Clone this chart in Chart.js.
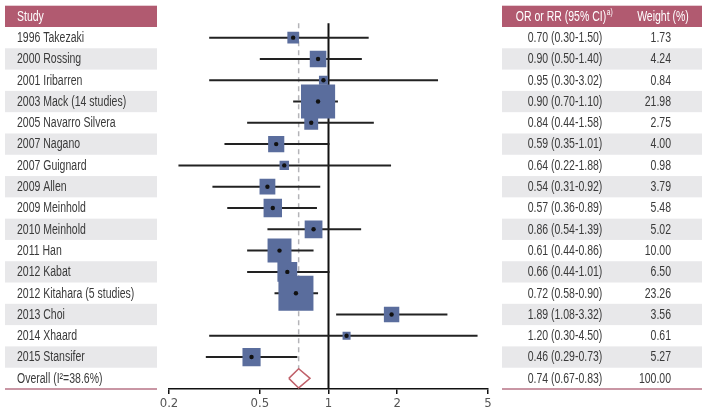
<!DOCTYPE html>
<html>
<head>
<meta charset="utf-8">
<script src="https://cdn.jsdelivr.net/npm/chart.js@4.4.1/dist/chart.umd.min.js"></script>
<style>
  html, body { margin: 0; padding: 0; background: #fff; }
  #wrap { width: 708px; height: 417px; }
</style>
</head>
<body>
<div id="wrap"><canvas id="forest"></canvas></div>
<script>
let studies = ['1996 Takezaki', '2000 Rossing', '2001 Iribarren', '2003 Mack (14 studies)', '2005 Navarro Silvera',
	'2007 Nagano', '2007 Guignard', '2009 Allen', '2009 Meinhold', '2010 Meinhold', '2011 Han', '2012 Kabat',
	'2012 Kitahara (5 studies)', '2013 Choi', '2014 Xhaard', '2015 Stansifer'];
let estimate = [0.70, 0.90, 0.95, 0.90, 0.84, 0.59, 0.64, 0.54, 0.57, 0.86, 0.61, 0.66, 0.72, 1.89, 1.20, 0.46];
let lower    = [0.30, 0.50, 0.30, 0.70, 0.44, 0.35, 0.22, 0.31, 0.36, 0.54, 0.44, 0.44, 0.58, 1.08, 0.30, 0.29];
let upper    = [1.50, 1.40, 3.02, 1.10, 1.58, 1.01, 1.88, 0.92, 0.89, 1.39, 0.86, 1.01, 0.90, 3.32, 4.50, 0.73];
let weights  = [1.73, 4.24, 0.84, 21.98, 2.75, 4.00, 0.98, 3.79, 5.48, 5.02, 10.00, 6.50, 23.26, 3.56, 0.61, 5.27];
let overall  = { label : 'Overall (I\u00B2=38.6%)', est : 0.74, lo : 0.67, hi : 0.83, weight : '100.00' };
let xTicks   = [0.2, 0.5, 1, 2, 5];

let fmt = v => v.toFixed(2);
let font = "'Liberation Sans', Arial, sans-serif";
let squeeze = 0.75; // the original uses a condensed face
let headerColor = '#b15a70',
	shadeColor  = '#e8e8ea',
	boxColor    = '#5a6d9d',
	textColor   = '#3a3a3a';

// CI whiskers, one little line per study
let ciSets = studies.map((s, i) => ({
	type        : 'line',
	data        : [{ x : lower[i], y : i + 1 }, { x : upper[i], y : i + 1 }],
	borderColor : '#222',
	borderWidth : 2,
	pointRadius : 0,
	order       : 5
}));

let refSets = [
	{
		type : 'line', data : [{ x : 1, y : 0.33 }, { x : 1, y : 17.5 }],
		borderColor : '#111', borderWidth : 2, pointRadius : 0, order : 6
	},
	{
		type : 'line', data : [{ x : overall.est, y : 0.33 }, { x : overall.est, y : 16.55 }],
		borderColor : '#b4b4b8', borderWidth : 1.5, borderDash : [5, 4], pointRadius : 0, order : 7
	},
	{
		type : 'line',
		data : [{ x : overall.lo, y : 17 }, { x : overall.est, y : 16.55 }, { x : overall.hi, y : 17 },
			{ x : overall.est, y : 17.45 }, { x : overall.lo, y : 17 }],
		borderColor : '#c0616a', borderWidth : 1.5, backgroundColor : '#fff', fill : false,
		pointRadius : 0, tension : 0, order : 1
	}
];

let boxSet = {
	type            : 'scatter',
	data            : estimate.map((v, i) => ({ x : v, y : i + 1 })),
	pointStyle      : 'rect',
	pointRadius     : weights.map(w => (2.8 + 6.68 * Math.sqrt(w)) / 1.4142),
	backgroundColor : boxColor,
	borderWidth     : 0,
	order           : 3
};

let dotSet = {
	type            : 'scatter',
	data            : estimate.map((v, i) => ({ x : v, y : i + 1 })),
	pointRadius     : 2.2,
	backgroundColor : '#111',
	borderWidth     : 0,
	order           : 2
};

function narrowText(ctx, txt, x, y, align) {
	ctx.save();
	ctx.translate(x, y);
	ctx.scale(squeeze, 1);
	ctx.textAlign = align;
	ctx.fillText(txt, 0, 0);
	ctx.restore();
}

let tablePlugin = {
	id : 'tables',
	beforeDatasetsDraw(chart) {
		let ctx = chart.ctx, y = chart.scales.y;
		let rowH = y.getPixelForValue(1) - y.getPixelForValue(0);
		let top = i => y.getPixelForValue(i - 0.5);
		ctx.save();
		ctx.fillStyle = headerColor;
		ctx.fillRect(5, top(0), 152, rowH);
		ctx.fillRect(502, top(0), 200, rowH);
		ctx.fillStyle = shadeColor;
		for (let i = 2; i <= 17; i += 2) {
			ctx.fillRect(5, top(i), 152, rowH);
			ctx.fillRect(502, top(i), 200, rowH);
		}
		ctx.strokeStyle = '#b87486';
		ctx.lineWidth = 1.5;
		let b = y.getPixelForValue(17.5);
		ctx.beginPath();
		ctx.moveTo(5, b); ctx.lineTo(157, b);
		ctx.moveTo(502, b); ctx.lineTo(702, b);
		ctx.stroke();
		ctx.restore();
	},
	afterDraw(chart) {
		let ctx = chart.ctx, y = chart.scales.y;
		ctx.save();
		ctx.textBaseline = 'middle';
		ctx.font = '14px ' + font;
		// headers
		let hy = y.getPixelForValue(0) + 0.5;
		ctx.fillStyle = '#fff';
		narrowText(ctx, 'Study', 17, hy, 'left');
		let main = 'OR or RR (95% CI)';
		let w1 = ctx.measureText(main).width * squeeze;
		ctx.font = '9px ' + font;
		let w2 = ctx.measureText('a)').width * squeeze;
		let sx = 564 - (w1 + w2) / 2;
		narrowText(ctx, 'a)', sx + w1 + 0.5, hy - 4, 'left');
		ctx.font = '14px ' + font;
		narrowText(ctx, main, sx, hy, 'left');
		narrowText(ctx, 'Weight (%)', 663, hy, 'center');
		// rows
		ctx.fillStyle = textColor;
		let rows = studies.map((s, i) => [s, fmt(estimate[i]) + ' (' + fmt(lower[i]) + '-' + fmt(upper[i]) + ')', fmt(weights[i])]);
		rows.push([overall.label, fmt(overall.est) + ' (' + fmt(overall.lo) + '-' + fmt(overall.hi) + ')', overall.weight]);
		rows.forEach((r, i) => {
			let py = y.getPixelForValue(i + 1) + 0.5;
			narrowText(ctx, r[0], 17, py, 'left');
			narrowText(ctx, r[1], 565, py, 'center');
			narrowText(ctx, r[2], 671, py, 'right');
		});
		ctx.restore();
	}
};

let forest = new Chart(document.getElementById('forest').getContext('2d'), {
	type    : 'scatter',
	data    : { datasets : [...refSets, ...ciSets, boxSet, dotSet] },
	options : {
		responsive          : true,
		maintainAspectRatio : false,
		animation           : false,
		layout              : { autoPadding : false, padding : { left : 169, right : 220, top : 5.7, bottom : 0 } },
		plugins             : { legend : { display : false }, tooltip : { enabled : false } },
		scales              : {
			x : {
				type            : 'logarithmic',
				min             : 0.2,
				max             : 5,
				afterBuildTicks : scale => { scale.ticks = xTicks.map(v => ({ value : v })); },
				afterFit        : scale => { scale.height = 28; },
				grid            : { drawOnChartArea : false, drawTicks : true, tickLength : 5, color : '#111', lineWidth : 1.5 },
				border          : { display : true, color : '#111', width : 1.5 },
				ticks           : {
					color    : '#555',
					padding  : 2,
					font     : { family : "'DejaVu Sans Condensed', 'Liberation Sans', sans-serif", size : 13 },
					callback : v => String(v)
				}
			},
			y : { type : 'linear', min : -0.5, max : 17.5, reverse : true, display : false }
		}
	},
	plugins : [tablePlugin]
});
</script>
</body>
</html>
